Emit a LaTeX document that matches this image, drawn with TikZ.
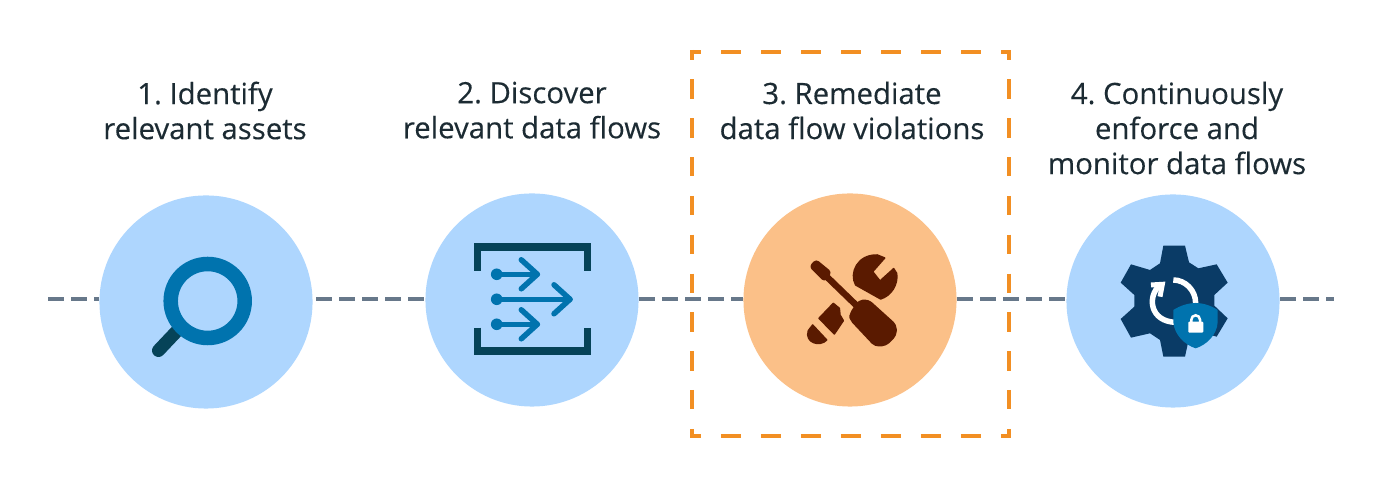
\documentclass[tikz,border=0pt]{standalone}
\usepackage{fontspec}
\setmainfont{Open Sans}
\newfontfamily\labelfont{Open Sans}[FakeBold=0.25]
\definecolor{inktext}{HTML}{1C2B33}
\definecolor{skyfill}{HTML}{AED6FE}
\definecolor{peachfill}{HTML}{FBC088}
\definecolor{flowblue}{HTML}{0073AE}
\definecolor{flowdark}{HTML}{064358}
\definecolor{gearnavy}{HTML}{0A3B66}
\definecolor{toolbrown}{HTML}{5A1A00}
\definecolor{boxorange}{HTML}{F28F23}
\definecolor{linegrey}{HTML}{67788A}
\tikzset{
  stepdisc/.style={circle,fill=skyfill,inner sep=0pt,minimum size=2.13cm},
  steplabel/.style={inner sep=0pt,align=center,text=inktext,font=\labelfont\frenchspacing\fontsize{8.35pt}{9.96pt}\selectfont},
  flowline/.style={linegrey,line width=0.04cm,dash pattern=on 0.16cm off 0.07cm},
  boxside/.style={boxorange,line width=0.04cm,shorten <=-0.02cm,shorten >=-0.02cm,dash pattern=on 0.2cm off 0.2cm,dash phase=0.09cm},
  boxupright/.style={boxorange,line width=0.04cm,shorten <=-0.02cm,shorten >=-0.02cm,dash pattern=on 0.194cm off 0.194cm,dash phase=0.094cm},
  toolpart/.style={toolbrown,fill=toolbrown,line width=0.015cm,line join=round},
  flowarrow/.style={flowblue,line width=0.055cm,line cap=round,line join=round}
}
\begin{document}
\begin{tikzpicture}[x=0.01cm,y=-0.01cm]
  \useasboundingbox (0,0) rectangle (1382,489);

  %step circles
  \node[stepdisc] (assets) at (206,302) {};
  \node[stepdisc] (flows) at (532,300) {};
  \node[stepdisc,fill=peachfill] (violations) at (850,300) {};
  \node[stepdisc] (monitor) at (1173,301) {};

  %step labels
  \node[steplabel,anchor=north] (assetstext) at (205,81) {1. Identify\\relevant assets};
  \node[steplabel,anchor=north] (flowstext) at (532,81) {2. Discover\\relevant data flows};
  \node[steplabel,anchor=north] (violationstext) at (852,81) {3. Remediate\\data flow violations};
  \node[steplabel,anchor=north] (monitortext) at (1177,81) {4. Continuously\\enforce and\\monitor data flows};

  %dashed line between the circles
  \coordinate (linestart) at (48,299);
  \coordinate (lineend) at (1334,299);
  \draw[flowline] (linestart) -- (assets.west |- linestart);
  \draw[flowline,shorten <=0.03cm] (assets.east |- linestart) -- (flows.west |- linestart);
  \draw[flowline] (flows.east |- linestart) -- (violations.west |- linestart);
  \draw[flowline] (violations.east |- linestart) -- (monitor.west |- linestart);
  \draw[flowline] (monitor.east |- linestart) -- (lineend);

  %orange box
  \coordinate (boxnw) at (692,52);
  \coordinate (boxse) at (1009,436);
  \draw[boxside] (boxnw) -- (boxnw -| boxse);
  \draw[boxupright] (boxnw -| boxse) -- (boxse);
  \draw[boxupright] (boxnw) -- (boxnw |- boxse);
  \draw[boxside] (boxnw |- boxse) -- (boxse);

  %magnifier
  \draw[flowdark,line width=0.13cm,line cap=round] (158.5,350.5) -- (176,332);
  \draw[flowblue,line width=0.145cm] (207.7,301) circle (37);

  %flows icon
  \draw[flowdark,line width=0.073cm] (477.8,270.7) -- (477.8,247) -- (587.5,247) -- (587.5,270.7);
  \draw[flowdark,line width=0.073cm] (477.8,327.7) -- (477.8,351) -- (587.5,351) -- (587.5,327.7);
  \foreach \y/\tip in {274.3/537.3,299.3/570,324.3/537.3} {
    \fill[flowblue] (496.7,\y) circle (5.8);
    \draw[flowarrow] (496.7,\y) -- (\tip,\y);
    \draw[flowarrow] (\tip-16,\y-14.5) -- (\tip,\y) -- (\tip-16,\y+14.5);
  }

  %tools icon
  \begin{scope}[shift={(790,240)},scale=0.3333]
    \filldraw[toolpart,rounded corners=0.03cm] (60,80) -- (78,60) -- (123,97) -- (103,123) -- cycle;
    \draw[toolbrown,line width=0.065cm] (110,110) -- (200,197);
    \filldraw[toolpart,rounded corners=0.04cm] (180,222) -- (207,182) -- (235,180) -- (318,255) -- (318,286) -- (288,316) -- (255,318) -- (180,238) -- cycle;
    \filldraw[toolpart] (272,177) -- (197,135) .. controls (177,100) and (202,43) .. (262,45) -- (284,54) -- (248,95) -- (270,123) -- (311,86) -- (320,100) .. controls (325,135) and (303,167) .. (272,177) -- cycle;
    \filldraw[toolpart] (87,235) -- (130,190) -- (148,205) -- (150,225) -- (160,242) -- (133,282) -- cycle;
    \filldraw[toolpart] (68,255) -- (110,300) .. controls (90,322) and (43,308) .. (55,272) -- cycle;
  \end{scope}

  %gear icon
  \begin{scope}[shift={(1105,235)},scale=0.3333]
    \fill[gearnavy] (175,32) -- (240,32) -- (252,82) -- (280,100) -- (335,88) -- (368,143) -- (328,180) -- (328,212) -- (368,250) -- (335,305) -- (280,290) -- (252,310) -- (240,365) -- (175,365) -- (165,315) -- (135,295) -- (78,308) -- (47,252) -- (88,215) -- (88,180) -- (47,143) -- (78,88) -- (135,105) -- (165,85) -- cycle;
    \draw[white,line width=0.055cm] (205,135) .. controls (240,135) and (272,165) .. (272,205);
    \draw[white,line width=0.055cm] (165,150) .. controls (125,185) and (135,260) .. (212,262);
    \draw[white,line width=0.05cm] (138,150) -- (172,148) -- (165,185);
    \fill[flowblue] (272,204) .. controls (250,204) and (225,212) .. (205,225) -- (205,262) .. controls (208,300) and (240,330) .. (272,340) .. controls (304,330) and (336,300) .. (338,262) -- (338,225) .. controls (319,212) and (294,204) .. (272,204) -- cycle;
    \draw[white,line width=0.025cm] (259,262) -- (259,254) arc[start angle=180,end angle=360,radius=13] -- (285,262);
    \fill[white,rounded corners=0.01cm] (250,260) rectangle (295,293);
  \end{scope}
\end{tikzpicture}
\end{document}
